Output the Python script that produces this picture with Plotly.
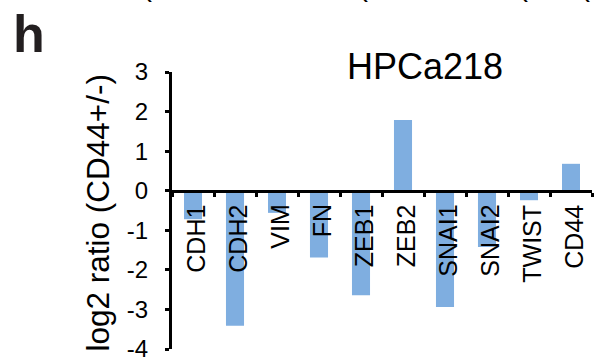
import plotly.graph_objects as go

genes = ["CDH1", "CDH2", "VIM", "FN", "ZEB1", "ZEB2", "SNAI1", "SNAI2", "TWIST", "CD44"]
log2_ratio = [-0.72, -3.41, -0.56, -1.69, -2.64, 1.79, -2.94, -1.42, -0.24, 0.68]
y_tick_vals = [3, 2, 1, 0, -1, -2, -3, -4]
y_tick_text = ["3", "2", "1", "0", "-1", "-2", "-3", "-4"]
panel_letter = "h"
chart_title = "HPCa218"
y_title = "log2 ratio (CD44+/-)"
# fragments of the panel above, cut by the top edge
above_fragments = ["(", "(", "(", "("]
above_fragment_x = [-0.06, 0.455, 0.835, 0.983]

FONT = "Liberation Sans, Arial, Helvetica, sans-serif"

fig = go.Figure()
fig.add_trace(go.Bar(
    x=genes, y=log2_ratio, width=0.43,
    marker=dict(color="#7FAEE0", line=dict(width=0)),
    showlegend=False,
))

annotations = []
for g in genes:
    annotations.append(dict(
        x=g, y=0, xref="x", yref="y", text=g, textangle=-90,
        showarrow=False, xanchor="center", yanchor="top",
        yshift=-12, xshift=3,
        font=dict(family=FONT, size=25, color="black"),
    ))

annotations.append(dict(
    x=-0.169, y=0.5, xref="paper", yref="paper", text=y_title, textangle=-90,
    showarrow=False, xanchor="center", yanchor="middle", xshift=-4, yshift=-2,
    font=dict(family=FONT, size=31.5, color="black"),
))
annotations.append(dict(
    x=0.602, y=1.0, xref="paper", yref="paper", text=chart_title,
    showarrow=False, xanchor="center", yanchor="bottom", yshift=-17,
    font=dict(family=FONT, size=36, color="black"),
))
annotations.append(dict(
    x=-0.39, y=1.22, xref="paper", yref="paper", text="<b>" + panel_letter + "</b>",
    showarrow=False, xanchor="left", yanchor="top", yshift=8, xshift=3,
    font=dict(family=FONT, size=52, color="#231f20"),
))
for t, fx in zip(above_fragments, above_fragment_x):
    annotations.append(dict(
        x=fx, y=1.228, xref="paper", yref="paper", text=t,
        showarrow=False, xanchor="center", yanchor="bottom", yshift=5,
        font=dict(family=FONT, size=30, color="black"),
    ))

fig.update_layout(
    width=599, height=360,
    margin=dict(l=172, r=7, t=72, b=11),
    paper_bgcolor="white", plot_bgcolor="white",
    annotations=annotations,
    font=dict(family=FONT, color="black"),
    xaxis=dict(
        type="category", anchor="free", position=4/7, automargin=False,
        showline=True, linecolor="black", linewidth=3,
        ticks="outside", tickson="boundaries", ticklen=4, tickwidth=3, tickcolor="black",
        showticklabels=False, showgrid=False, zeroline=False,
    ),
    yaxis=dict(
        range=[-4, 3], tickvals=y_tick_vals, ticktext=y_tick_text, automargin=False,
        showline=True, linecolor="black", linewidth=3,
        ticks="outside", ticklen=4, tickwidth=3, tickcolor="black",
        ticklabelstandoff=12, ticklabeloverflow="allow",
        tickfont=dict(family=FONT, size=24, color="black"),
        showgrid=False, zeroline=False,
    ),
)

fig.write_html(
    "out.html",
    config={"displayModeBar": False},
    post_script="document.body.style.margin='0';document.body.style.overflow='hidden';",
)
